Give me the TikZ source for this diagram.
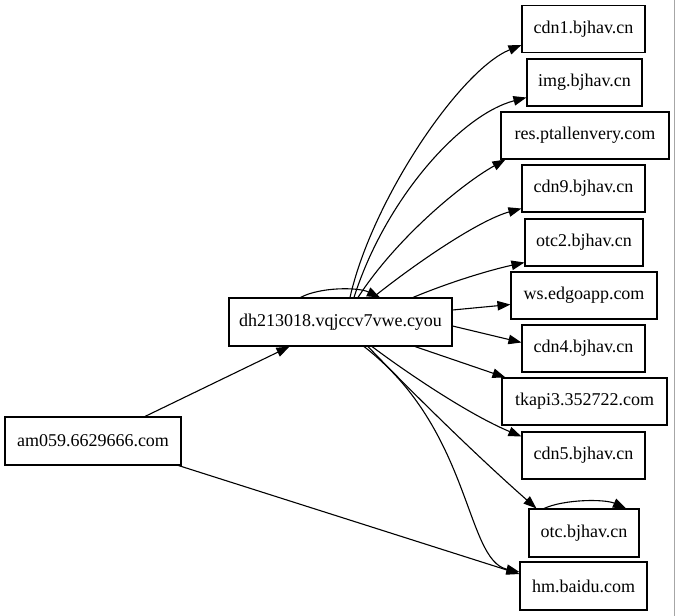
\documentclass[tikz,border=0pt]{standalone}
\usepackage{fontspec}
\setmainfont{Liberation Serif}
\usetikzlibrary{arrows.meta,calc}
\begin{document}
\begin{tikzpicture}[x=1pt,y=-1pt,
  box/.style={draw,line width=1.1pt,inner sep=0pt,minimum height=47pt,font=\fontsize{18}{22}\selectfont},
  edge/.style={line width=1.1pt,-{Triangle[length=13pt,width=9.5pt]}}]
\useasboundingbox (0,0) rectangle (675,616);
\draw[gray!70,line width=1pt] (674,0) -- (674,616);
% nodes
\node[box,minimum width=123pt] (cdn1) at (583.5,29) {cdn1.bjhav.cn};
\node[box,minimum width=115pt] (img) at (584.5,82.5) {img.bjhav.cn};
\node[box,minimum width=168pt] (res) at (585,135.5) {res.ptallenvery.com};
\node[box,minimum width=123pt] (cdn9) at (583.5,188.5) {cdn9.bjhav.cn};
\node[box,minimum width=118pt] (otc2) at (584,242.5) {otc2.bjhav.cn};
\node[box,minimum width=146pt] (ws) at (584,295.5) {ws.edgoapp.com};
\node[box,minimum width=123pt] (cdn4) at (583.5,348.5) {cdn4.bjhav.cn};
\node[box,minimum width=165pt] (tk) at (584.5,401.5) {tkapi3.352722.com};
\node[box,minimum width=123pt] (cdn5) at (583.5,455.5) {cdn5.bjhav.cn};
\node[box,minimum width=110pt,minimum height=48pt] (otc) at (584,533) {otc.bjhav.cn};
\node[box,minimum width=127pt,minimum height=48pt] (hm) at (583.5,586) {hm.baidu.com};
\node[box,minimum width=223pt,minimum height=48pt] (dh) at (340.5,322) {dh213018.vqjccv7vwe.cyou};
\node[box,minimum width=176pt,minimum height=48pt] (am) at (93,441) {am059.6629666.com};
% edges from dh
\draw[edge] ($(dh.north)+(-40,0)$) .. controls (320,287) and (358,287) .. ($(dh.north)+(39.5,0)$);
\draw[edge] ($(dh.north)+(9.5,0)$) .. controls (372,200) and (460,70) .. ($(cdn1.west)+(0,16)$);
\draw[edge] ($(dh.north)+(13.5,0)$) .. controls (385,200) and (460,115) .. ($(img.west)+(0,15)$);
\draw[edge] ($(dh.north)+(17.5,0)$) .. controls (395,240) and (460,185) .. ($(res.south west)+(5,0)$);
\draw[edge] ($(dh.north)+(32.5,0)$) .. controls (420,260) and (480,220) .. ($(cdn9.west)+(0,20)$);
\draw[edge] ($(dh.north)+(72.5,0)$) .. controls (450,282) and (490,270) .. ($(otc2.west)+(0,20)$);
\draw[edge] ($(dh.east)+(0,-12)$) -- ($(ws.west)+(0,9)$);
\draw[edge] ($(dh.east)+(0,4)$) -- ($(cdn4.west)+(0,-6)$);
\draw[edge] ($(dh.south)+(74.5,0)$) -- ($(tk.north west)+(4,0)$);
\draw[edge] ($(dh.south)+(31.5,0)$) .. controls (410,375) and (470,415) .. ($(cdn5.west)+(0,-19)$);
\draw[edge] ($(dh.south)+(27.5,0)$) .. controls (400,380) and (470,450) .. ($(otc.north west)+(8,0)$);
\draw[edge] ($(dh.south)+(23.5,0)$) .. controls (472,430) and (465,560) .. ($(hm.west)+(0,-14)$);
% otc self loop
\draw[edge] ($(otc.north)+(-40,0)$) .. controls (565,499) and (605,499) .. ($(otc.north)+(42,0)$);
% edges from am
\draw[edge] ($(am.north)+(52,0)$) -- ($(dh.south west)+(61,0)$);
\draw[edge] ($(am.south east)+(-3,0)$) -- ($(hm.west)+(0,-12)$);
\end{tikzpicture}
\end{document}
